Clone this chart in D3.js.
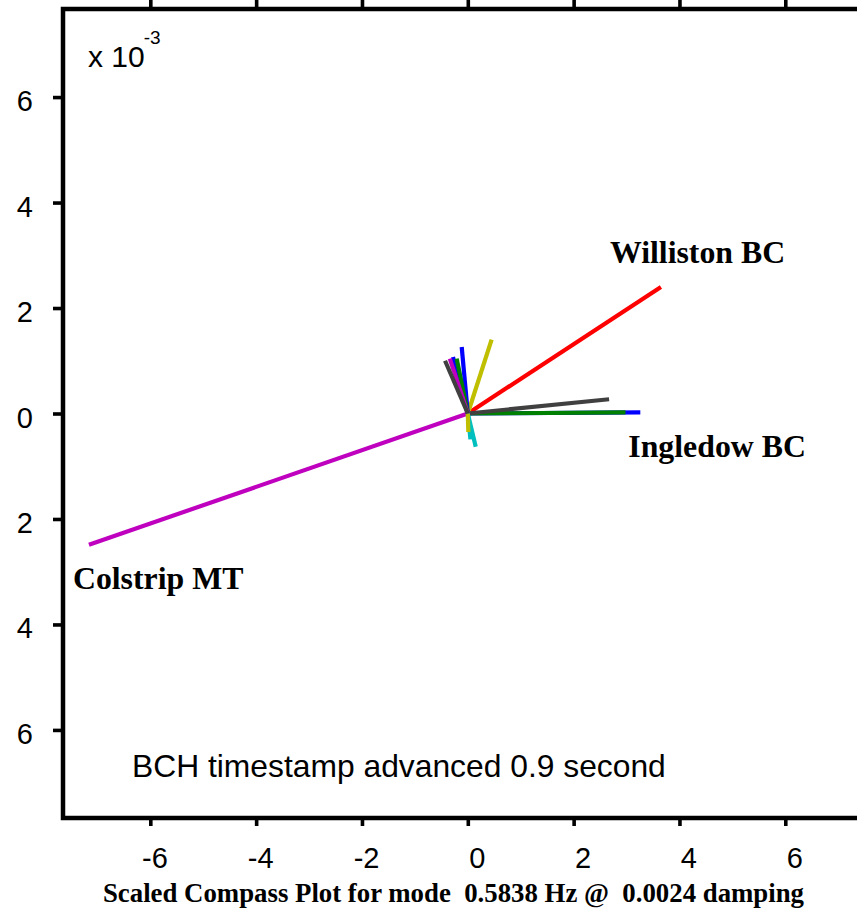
<!DOCTYPE html>
<html>
<head>
<meta charset="utf-8">
<script src="https://cdn.jsdelivr.net/npm/d3@7"></script>
<style>
  html, body { margin: 0; padding: 0; background: #fff; }
  svg { display: block; }
</style>
</head>
<body>
<div id="chart"></div>
<script>
// compass vectors (units of 1e-3), drawn in this order
const vectorIds = ["v1", "v2", "v3", "v4", "v5", "v6", "v7", "v8", "v9", "v10", "v11", "v12", "v13", "v14"];
const realParts = [3.26, 2.98, 3.65, 0.15, -7.16, 0.45, 2.67, -0.28, -0.115, -0.21, 0.05, -0.34, 0.01, -0.43];
const imagParts = [0.02, 0.02, 2.40, -0.63, -2.49, 1.40, 0.27, 1.07, 1.26, 1.04, -0.49, 1.04, -0.35, 1.00];

// named stations and the vector they belong to
const stationNames = ["Ingledow BC", "Williston BC", "Colstrip MT"];
const stationVectors = ["v1", "v3", "v5"];

const xTicks = [-6, -4, -2, 0, 2, 4, 6];
const xTickLabels = ["-6", "-4", "-2", "0", "2", "4", "6"];
const yTicks = [-6, -4, -2, 0, 2, 4, 6];
const yTickLabels = ["6", "4", "2", "0", "2", "4", "6"];

const exponentLabel = "-3";
const noteText = "BCH timestamp advanced 0.9 second";
const titleText = "Scaled Compass Plot for mode  0.5838 Hz @  0.0024 damping";

// MATLAB style color order
const colorOrder = ["#0000ff", "#008000", "#ff0000", "#00bfbf", "#bf00bf", "#bfbf00", "#404040",
                    "#0000ff", "#0000ff", "#008000", "#00bfbf", "#bf00bf", "#bfbf00", "#404040"];

const W = 857, H = 910;
const sans = "'Liberation Sans', Arial, sans-serif";
const serif = "'Liberation Serif', 'Times New Roman', serif";

const svg = d3.select("#chart").append("svg")
    .attr("width", W)
    .attr("height", H);

const x = d3.scaleLinear().domain([-7.65, 7.65]).range([63, 872.6]);
const y = d3.scaleLinear().domain([-7.67, 7.67]).range([818, 9]);
const color = d3.scaleOrdinal().domain(vectorIds).range(colorOrder);

const data = vectorIds.map((id, i) => ({ id, re: realParts[i], im: imagParts[i] }));

// vectors
svg.append("g")
    .selectAll("line")
    .data(data)
    .join("line")
    .attr("x1", x(0))
    .attr("y1", y(0))
    .attr("x2", d => x(d.re))
    .attr("y2", d => y(d.im))
    .attr("stroke", d => color(d.id))
    .attr("stroke-width", 4.2)
    .attr("stroke-linecap", "butt");

// axes
const bottomAxis = svg.append("g")
    .attr("transform", `translate(0,${y.range()[0]})`)
    .call(d3.axisBottom(x).tickValues(xTicks).tickSize(8)
        .tickFormat((d, i) => xTickLabels[i]));
bottomAxis.selectAll("text")
    .attr("y", 50).attr("dy", null).attr("x", 17)
    .attr("text-anchor", "end");

const topAxis = svg.append("g")
    .attr("transform", `translate(0,${y.range()[1]})`)
    .call(d3.axisTop(x).tickValues(xTicks).tickSize(10).tickFormat(""));

const leftAxis = svg.append("g")
    .attr("transform", `translate(${x.range()[0]},0)`)
    .call(d3.axisLeft(y).tickValues(yTicks).tickSize(10)
        .tickFormat((d, i) => yTickLabels[yTickLabels.length - 1 - i]));
leftAxis.selectAll("text")
    .attr("x", -30).attr("dy", null).attr("y", 13.5)
    .attr("text-anchor", "end");

[bottomAxis, topAxis, leftAxis].forEach(g => {
    g.select(".domain").remove();
    g.selectAll(".tick line").attr("stroke", "#000").attr("stroke-width", 3.6);
    g.selectAll("text")
        .attr("fill", "#000")
        .style("font-family", sans)
        .style("font-size", "29px");
});

// frame
svg.append("rect")
    .attr("x", x.range()[0])
    .attr("y", y.range()[1])
    .attr("width", x.range()[1] - x.range()[0])
    .attr("height", y.range()[0] - y.range()[1])
    .attr("fill", "none")
    .attr("stroke", "#000")
    .attr("stroke-width", 4.5);

// exponent
const expo = svg.append("text")
    .attr("x", 88).attr("y", 67)
    .style("font-family", sans)
    .style("font-size", "30px");
expo.append("tspan").text("x 10");
expo.append("tspan").attr("dx", -1).attr("dy", -23).style("font-size", "19px").text(exponentLabel);

// station labels, offset from each vector tip
const labelOffsets = { "v1": [-12, 45], "v3": [-51, -24], "v5": [-16, 44] };
svg.append("g")
    .selectAll("text")
    .data(stationNames)
    .join("text")
    .attr("x", (d, i) => {
        const v = data.find(e => e.id === stationVectors[i]);
        return x(v.re) + labelOffsets[v.id][0];
    })
    .attr("y", (d, i) => {
        const v = data.find(e => e.id === stationVectors[i]);
        return y(v.im) + labelOffsets[v.id][1];
    })
    .style("font-family", serif)
    .style("font-weight", "bold")
    .style("font-size", "31.8px")
    .text(d => d);

svg.append("text")
    .attr("x", 132).attr("y", 777)
    .style("font-family", sans)
    .style("font-size", "31.8px")
    .text(noteText);

svg.append("text")
    .attr("x", 453.5).attr("y", 902)
    .attr("text-anchor", "middle")
    .style("font-family", serif)
    .style("font-weight", "bold")
    .style("font-size", "26.8px")
    .style("white-space", "pre")
    .text(titleText);
</script>
</body>
</html>
